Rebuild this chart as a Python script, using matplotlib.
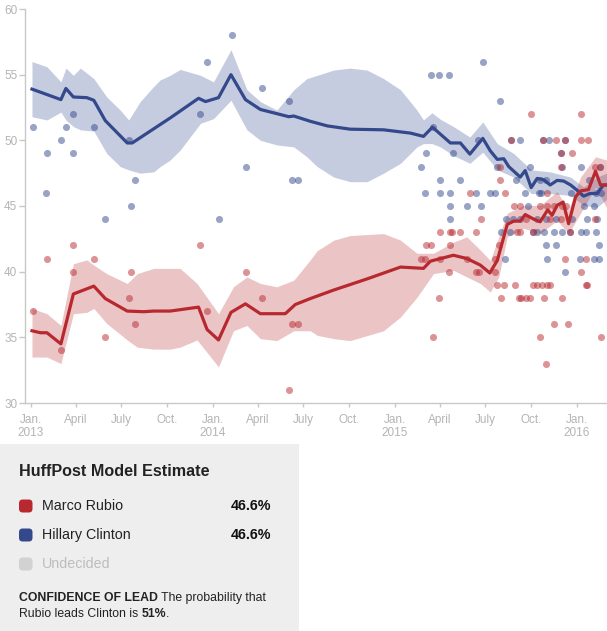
import matplotlib
matplotlib.use("Agg")
import matplotlib.pyplot as plt
import pandas as pd
from matplotlib.patches import Rectangle, FancyBboxPatch

plt.rcParams['font.family'] = ['Liberation Sans', 'DejaVu Sans']

# ---------------- data ----------------
clinton_line_dates = ["2013-01-03", "2013-02-01", "2013-03-02", "2013-03-12", "2013-03-27", "2013-04-23",
                      "2013-05-07", "2013-05-30", "2013-07-13", "2013-07-23", "2013-10-07", "2013-12-03",
                      "2013-12-17", "2014-01-12", "2014-02-06", "2014-03-07", "2014-04-06", "2014-06-02",
                      "2014-06-12", "2014-07-15", "2014-08-18", "2014-10-03", "2014-12-09", "2015-02-01",
                      "2015-02-27", "2015-03-17", "2015-04-22", "2015-05-12", "2015-05-31", "2015-06-26",
                      "2015-07-11", "2015-07-25", "2015-08-07", "2015-08-17", "2015-09-09", "2015-09-19",
                      "2015-10-01", "2015-10-13", "2015-10-26", "2015-11-08", "2015-11-22", "2015-12-05",
                      "2015-12-19", "2016-01-01", "2016-01-14", "2016-01-27", "2016-02-10", "2016-02-23",
                      "2016-02-29"]
clinton_line_vals = [53.9, 53.5, 53.1, 53.95, 53.3, 53.25,
                     53.05, 51.5, 49.8, 49.8, 51.7, 53.2,
                     52.95, 53.25, 55.0, 53.1, 52.35, 51.8,
                     51.85, 51.45, 51.1, 50.85, 50.8, 50.55,
                     50.3, 51.0, 49.8, 49.8, 48.95, 50.15,
                     49.2, 48.55, 48.6, 48.0, 47.2, 47.7,
                     46.4, 47.1, 47.0, 46.6, 46.95, 46.9,
                     46.6, 46.2, 45.75, 45.95, 45.95, 46.6,
                     46.6]

clinton_band_dates = ["2013-01-03", "2013-02-02", "2013-03-02", "2013-03-12", "2013-03-27", "2013-04-10",
                      "2013-05-07", "2013-06-02", "2013-06-29", "2013-07-16", "2013-08-08", "2013-09-04",
                      "2013-09-17", "2013-10-07", "2013-10-27", "2013-12-07", "2014-01-02", "2014-02-06",
                      "2014-03-10", "2014-04-06", "2014-05-09", "2014-06-12", "2014-07-08", "2014-07-29",
                      "2014-08-31", "2014-10-03", "2014-11-06", "2014-12-09", "2015-01-12", "2015-02-14",
                      "2015-02-27", "2015-03-16", "2015-04-02", "2015-04-28", "2015-05-31", "2015-06-26",
                      "2015-07-25", "2015-08-27", "2015-10-01", "2015-11-08", "2015-12-19", "2016-01-14",
                      "2016-02-10", "2016-02-29"]
clinton_band_lo = [51.8, 51.55, 52.15, 51.55, 51.05, 50.8,
                   50.7, 49.0, 48.0, 47.75, 47.5, 47.6,
                   48.0, 48.5, 49.25, 51.3, 51.65, 53.05,
                   50.8, 50.0, 49.65, 49.5, 48.75, 48.0,
                   47.2, 46.85, 46.85, 47.5, 48.25, 49.5,
                   49.75, 49.75, 49.5, 48.85, 48.25, 49.1,
                   47.75, 47.2, 45.95, 45.95, 45.8, 45.05,
                   44.9, 45.5]
clinton_band_hi = [56.0, 55.6, 54.45, 55.5, 54.95, 55.5,
                   54.7, 53.3, 52.3, 51.55, 52.95, 54.1,
                   54.6, 54.95, 55.4, 54.95, 54.45, 56.9,
                   53.85, 52.95, 52.3, 53.85, 54.7, 54.95,
                   55.35, 55.5, 55.35, 54.7, 53.85, 52.3,
                   51.55, 52.1, 51.6, 51.05, 50.25, 51.4,
                   49.75, 49.0, 47.75, 47.6, 47.2, 46.45,
                   47.2, 47.5]

rubio_line_dates = ["2013-01-03", "2013-01-20", "2013-02-02", "2013-03-02", "2013-03-27", "2013-05-07",
                    "2013-05-30", "2013-07-13", "2013-08-15", "2013-09-04", "2013-10-07", "2013-12-03",
                    "2013-12-20", "2014-01-12", "2014-02-06", "2014-03-07", "2014-04-06", "2014-05-26",
                    "2014-06-15", "2014-07-15", "2014-08-31", "2014-11-06", "2015-01-12", "2015-02-27",
                    "2015-03-13", "2015-04-28", "2015-05-25", "2015-06-21", "2015-07-10", "2015-07-25",
                    "2015-08-14", "2015-08-27", "2015-09-09", "2015-09-19", "2015-10-06", "2015-10-19",
                    "2015-11-03", "2015-11-12", "2015-11-22", "2015-12-04", "2015-12-15", "2015-12-29",
                    "2016-01-08", "2016-01-24", "2016-02-07", "2016-02-17", "2016-02-29"]
rubio_line_vals = [35.5, 35.35, 35.35, 34.5, 38.3, 38.9,
                   37.95, 37.0, 36.95, 37.0, 37.0, 37.3,
                   35.6, 34.8, 36.9, 37.55, 36.8, 36.8,
                   37.5, 37.95, 38.6, 39.45, 40.35, 40.25,
                   40.8, 41.25, 41.0, 40.5, 39.9, 40.85,
                   43.6, 43.85, 43.85, 44.35, 44.0, 43.8,
                   44.7, 44.3, 45.05, 45.3, 43.65, 45.7,
                   46.15, 46.25, 47.65, 46.6, 46.6]

rubio_band_dates = ["2013-01-03", "2013-02-02", "2013-03-02", "2013-03-27", "2013-04-23", "2013-05-07",
                    "2013-06-02", "2013-07-13", "2013-08-02", "2013-09-04", "2013-10-07", "2013-10-27",
                    "2013-11-30", "2014-01-12", "2014-02-11", "2014-03-10", "2014-04-06", "2014-05-09",
                    "2014-06-12", "2014-07-15", "2014-07-29", "2014-08-31", "2014-10-03", "2014-12-09",
                    "2015-01-12", "2015-02-14", "2015-03-19", "2015-04-28", "2015-05-25", "2015-06-21",
                    "2015-07-11", "2015-07-28", "2015-08-14", "2015-09-16", "2015-10-19", "2015-11-22",
                    "2015-12-15", "2016-01-08", "2016-02-07", "2016-02-29"]
rubio_band_lo = [33.5, 33.5, 33.0, 36.8, 36.9, 37.2,
                 36.05, 34.8, 34.25, 34.1, 34.1, 34.25,
                 34.8, 32.75, 35.5, 35.9, 34.9, 34.75,
                 35.5, 35.5, 35.15, 34.9, 34.75, 35.5,
                 36.55, 38.05, 39.85, 40.1, 39.6, 39.1,
                 38.45, 39.6, 42.65, 43.3, 42.9, 43.9,
                 42.9, 44.45, 46.45, 44.9]
rubio_band_hi = [37.2, 36.8, 35.9, 40.6, 40.9, 40.5,
                 39.85, 39.1, 39.85, 40.25, 40.25, 40.25,
                 39.1, 36.8, 38.85, 39.6, 39.1, 38.85,
                 39.35, 40.9, 41.6, 42.4, 42.75, 42.9,
                 42.4, 41.4, 41.4, 42.25, 42.65, 41.65,
                 40.85, 42.65, 44.45, 45.05, 45.05, 46.1,
                 44.7, 47.2, 48.75, 48.5]

clinton_poll_dates = ["2013-01-05", "2013-02-02", "2013-02-01", "2013-03-02", "2013-03-13", "2013-03-26",
                      "2013-03-27", "2013-05-08", "2013-05-30", "2013-07-17", "2013-07-29", "2013-07-21",
                      "2013-12-19", "2013-12-05", "2014-02-08", "2014-04-09", "2014-06-03", "2014-03-09",
                      "2014-06-08", "2014-06-20", "2014-01-14", "2015-02-23", "2015-03-03", "2015-03-04",
                      "2015-03-15", "2015-03-18", "2015-03-30", "2015-04-02", "2015-04-02", "2015-04-20",
                      "2015-04-21", "2015-04-21", "2015-04-21", "2015-04-28", "2015-05-12", "2015-05-25",
                      "2015-06-13", "2015-06-16", "2015-06-22", "2015-06-26", "2015-07-11", "2015-07-21",
                      "2015-07-25", "2015-07-30", "2015-08-02", "2015-08-10", "2015-08-12", "2015-08-20",
                      "2015-08-22", "2015-08-26", "2015-09-01", "2015-09-08", "2015-09-08", "2015-09-19",
                      "2015-09-25", "2015-09-29", "2015-10-05", "2015-10-13", "2015-10-13", "2015-10-16",
                      "2015-10-18", "2015-10-21", "2015-10-25", "2015-10-26", "2015-10-31", "2015-10-31",
                      "2015-10-31", "2015-11-02", "2015-11-05", "2015-11-15", "2015-11-19", "2015-11-19",
                      "2015-11-30", "2015-12-01", "2015-12-02", "2015-12-07", "2015-12-07", "2015-12-17",
                      "2015-12-19", "2015-12-21", "2016-01-06", "2016-01-08", "2016-01-09", "2016-01-14",
                      "2016-01-18", "2016-01-21", "2016-01-24", "2016-02-03", "2016-02-03", "2016-02-07",
                      "2016-02-07", "2016-02-10", "2016-02-13", "2016-02-13", "2016-02-15", "2016-02-17"]
clinton_poll_vals = [51, 49, 46, 50, 51, 52,
                     49, 51, 44, 50, 47, 45,
                     56, 52, 58, 54, 53, 48,
                     47, 47, 44, 48, 46, 49,
                     55, 51, 55, 47, 46, 55,
                     46, 45, 44, 49, 47, 45,
                     46, 50, 45, 56, 46, 46,
                     48, 53, 43, 41, 44, 43,
                     50, 44, 47, 50, 44, 46,
                     45, 48, 43, 44, 43, 46,
                     47, 46, 50, 43, 47, 44,
                     42, 41, 50, 43, 44, 42,
                     49, 48, 43, 50, 40, 43,
                     46, 44, 41, 43, 48, 45,
                     43, 44, 47, 45, 41, 46,
                     43, 44, 42, 41, 48, 46]

rubio_poll_dates = ["2013-01-05", "2013-02-02", "2013-03-02", "2013-03-26", "2013-03-27", "2013-05-08",
                    "2013-05-30", "2013-07-17", "2013-07-21", "2013-07-29", "2013-12-05", "2013-12-19",
                    "2014-03-09", "2014-04-09", "2014-06-03", "2014-06-08", "2014-06-20", "2015-02-23",
                    "2015-03-03", "2015-03-05", "2015-03-15", "2015-03-18", "2015-03-30", "2015-04-02",
                    "2015-04-02", "2015-04-20", "2015-04-21", "2015-04-21", "2015-04-25", "2015-05-12",
                    "2015-05-25", "2015-05-31", "2015-06-13", "2015-06-13", "2015-06-19", "2015-06-22",
                    "2015-07-21", "2015-07-21", "2015-07-25", "2015-07-28", "2015-07-30", "2015-07-30",
                    "2015-08-02", "2015-08-07", "2015-08-10", "2015-08-22", "2015-08-28", "2015-08-30",
                    "2015-09-03", "2015-09-06", "2015-09-09", "2015-09-09", "2015-09-11", "2015-09-21",
                    "2015-09-21", "2015-09-28", "2015-10-01", "2015-10-05", "2015-10-05", "2015-10-13",
                    "2015-10-18", "2015-10-19", "2015-10-23", "2015-10-25", "2015-10-26", "2015-10-31",
                    "2015-11-02", "2015-11-02", "2015-11-02", "2015-11-08", "2015-11-08", "2015-11-15",
                    "2015-11-15", "2015-11-19", "2015-11-29", "2015-11-30", "2015-11-30", "2015-12-02",
                    "2015-12-02", "2015-12-07", "2015-12-07", "2015-12-10", "2015-12-14", "2015-12-17",
                    "2015-12-21", "2016-01-08", "2016-01-09", "2016-01-09", "2016-01-18", "2016-01-18",
                    "2016-01-20", "2016-01-23", "2016-02-05", "2016-02-05", "2016-02-15", "2016-02-17"]
rubio_poll_vals = [37, 41, 34, 40, 42, 41,
                   35, 38, 40, 36, 42, 37,
                   40, 38, 31, 36, 36, 41,
                   41, 42, 42, 35, 38, 43,
                   41, 40, 43, 42, 43, 43,
                   41, 46, 43, 40, 40, 44,
                   41, 40, 39, 42, 48, 47,
                   38, 39, 46, 50, 45, 39,
                   43, 38, 45, 43, 38, 44,
                   38, 38, 52, 43, 39, 39,
                   35, 45, 39, 50, 38, 33,
                   46, 45, 39, 44, 39, 45,
                   36, 50, 44, 49, 48, 45,
                   38, 50, 41, 45, 36, 43,
                   49, 50, 52, 40, 41, 39,
                   39, 50, 48, 44, 48, 35]

x_tick_dates = ["2013-01-01", "2013-04-01", "2013-07-01", "2013-10-01",
                "2014-01-01", "2014-04-01", "2014-07-01", "2014-10-01",
                "2015-01-01", "2015-04-01", "2015-07-01", "2015-10-01", "2016-01-01"]
x_tick_labels = ["Jan.\n2013", "April", "July", "Oct.",
                 "Jan.\n2014", "April", "July", "Oct.",
                 "Jan.\n2015", "April", "July", "Oct.", "Jan.\n2016"]
y_ticks = [30, 35, 40, 45, 50, 55, 60]

legend_names = ["Marco Rubio", "Hillary Clinton", "Undecided"]
legend_values = ["46.6%", "46.6%", ""]
lead_probability = "51%"

# ---------------- style ----------------
BLUE = "#34488c"
RED = "#b8292f"
BAND_ALPHA = 0.28
DOT_ALPHA = 0.5

W, H = 607, 631
fig = plt.figure(figsize=(W / 100, H / 100), dpi=100)

def fx(x):
    return x / W

def fy(y):
    return 1 - y / H

ax = fig.add_axes([fx(25), fy(403), fx(607) - fx(25), fy(9) - fy(403)])

td = pd.to_datetime
ax.fill_between(td(clinton_band_dates), clinton_band_lo, clinton_band_hi,
                color=BLUE, alpha=BAND_ALPHA, linewidth=0, zorder=1)
ax.fill_between(td(rubio_band_dates), rubio_band_lo, rubio_band_hi,
                color=RED, alpha=0.27, linewidth=0, zorder=1)
ax.scatter(td(clinton_poll_dates), clinton_poll_vals, s=26, color=BLUE,
           alpha=DOT_ALPHA, linewidths=0, zorder=2)
ax.scatter(td(rubio_poll_dates), rubio_poll_vals, s=26, color=RED,
           alpha=DOT_ALPHA, linewidths=0, zorder=2)
ax.plot(td(clinton_line_dates), clinton_line_vals, color=BLUE, lw=2.3,
        solid_joinstyle='round', zorder=3)
ax.plot(td(rubio_line_dates), rubio_line_vals, color=RED, lw=2.3,
        solid_joinstyle='round', zorder=4)

ax.set_xlim(td("2012-12-20"), td("2016-03-01"))
ax.set_ylim(30, 60)
ax.set_yticks(y_ticks)
ax.set_yticklabels([str(v) for v in y_ticks])
ax.set_xticks(td(x_tick_dates))
ax.set_xticklabels(x_tick_labels, linespacing=1.15)

for s in ["top", "right"]:
    ax.spines[s].set_visible(False)
for s in ["left", "bottom"]:
    ax.spines[s].set_color("#c8c8c8")
    ax.spines[s].set_linewidth(1.0)
ax.tick_params(axis="y", length=4, width=1, color="#c8c8c8", labelcolor="#b4b4b4",
               labelsize=8.5, pad=1.5)
ax.tick_params(axis="x", length=3, width=1, color="#c8c8c8", labelcolor="#b4b4b4",
               labelsize=8.5, pad=5)
ax.set_facecolor("white")

# ---------------- legend panel ----------------
fig.patches.append(Rectangle((0, 0), fx(299), fy(444), transform=fig.transFigure,
                             facecolor="#eeeeee", edgecolor="none", zorder=0))

TXT = "#222222"
fig.text(fx(19), fy(472), "HuffPost Model Estimate", fontsize=11.6, fontweight="bold",
         color=TXT, va="center", ha="left")

swatch_colors = [RED, BLUE, "#d2d2d2"]
rows_y = [506, 535, 564]
name_colors = [TXT, TXT, "#bdbdbd"]
for name, val, col, ncol, yy in zip(legend_names, legend_values, swatch_colors, name_colors, rows_y):
    fig.patches.append(FancyBboxPatch((fx(19), fy(yy + 6.5)), fx(13.5) - fx(0), fy(0) - fy(13),
                                      boxstyle="round,pad=0,rounding_size=0.006",
                                      transform=fig.transFigure, facecolor=col,
                                      edgecolor="none", zorder=1))
    fig.text(fx(42), fy(yy), name, fontsize=10.3, color=ncol, va="center", ha="left")
    if val:
        fig.text(fx(271), fy(yy), val, fontsize=10.3, fontweight="bold", color="#111111",
                 va="center", ha="right")

renderer = fig.canvas.get_renderer()

def run_text(parts, x0, y0, size):
    x = x0
    for txt, weight in parts:
        t = fig.text(fx(x), fy(y0), txt, fontsize=size, fontweight=weight, color=TXT,
                     va="center", ha="left")
        bb = t.get_window_extent(renderer=renderer)
        x += bb.width

run_text([("CONFIDENCE OF LEAD", "bold"), (" The probability that", "normal")], 19, 598, 8.8)
run_text([("Rubio leads Clinton is ", "normal"), (lead_probability, "bold"), (".", "normal")], 19, 614, 8.8)

fig.savefig("out.png", dpi=100, facecolor="white")
